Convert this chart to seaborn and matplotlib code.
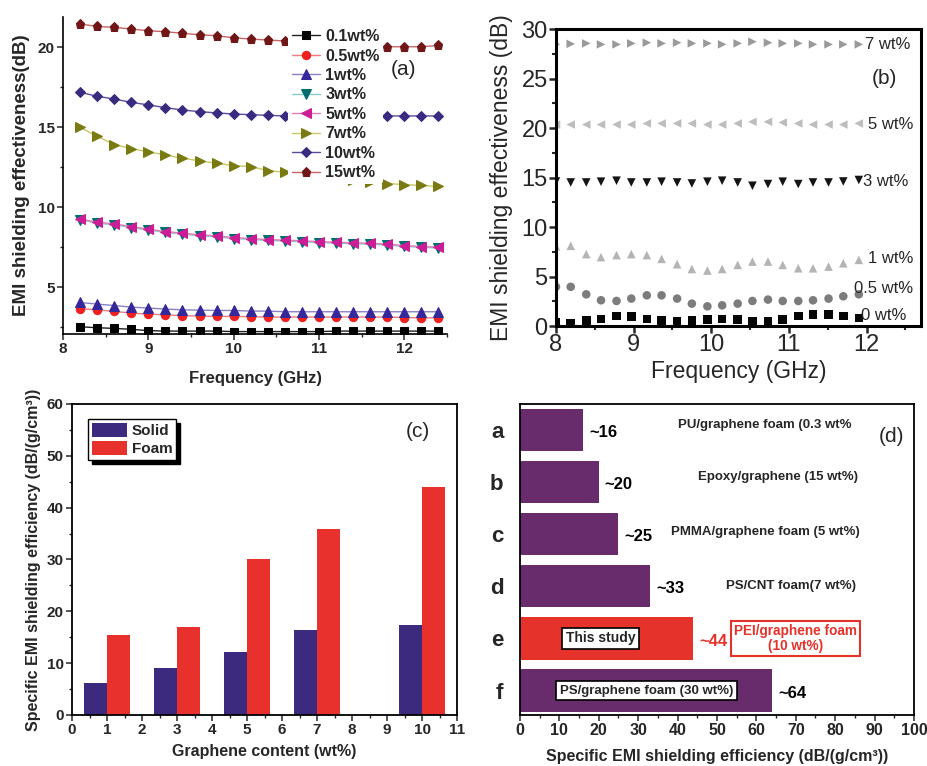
import numpy as np
import pandas as pd
import matplotlib
matplotlib.use("Agg")
import matplotlib.pyplot as plt
from matplotlib.ticker import MultipleLocator
from matplotlib.patches import Patch
import seaborn as sns

sns.set_style("ticks")
plt.rcParams["font.family"] = ["Liberation Sans", "DejaVu Sans"]

# ---------------- Panel (a) data ----------------
freq_a = [8.2, 8.4, 8.6, 8.8, 9.0, 9.2, 9.4, 9.6, 9.8, 10.0, 10.2,
          10.4, 10.6, 10.8, 11.0, 11.2, 11.4, 11.6, 11.8, 12.0, 12.2, 12.4]
se_01 = [2.52, 2.46, 2.42, 2.36, 2.28, 2.25, 2.25, 2.25, 2.25, 2.22, 2.22,
         2.22, 2.22, 2.22, 2.22, 2.25, 2.25, 2.25, 2.25, 2.25, 2.25, 2.25]
se_05 = [3.65, 3.58, 3.48, 3.38, 3.31, 3.27, 3.21, 3.19, 3.17, 3.17, 3.15,
         3.13, 3.13, 3.13, 3.13, 3.13, 3.13, 3.13, 3.13, 3.10, 3.08, 3.08]
se_1 = [4.04, 3.94, 3.85, 3.75, 3.69, 3.63, 3.58, 3.56, 3.54, 3.54, 3.50,
        3.50, 3.46, 3.46, 3.46, 3.46, 3.46, 3.46, 3.46, 3.46, 3.46, 3.46]
se_3 = [9.22, 9.00, 8.90, 8.73, 8.57, 8.42, 8.32, 8.21, 8.15, 8.04, 7.98,
        7.92, 7.88, 7.84, 7.79, 7.75, 7.71, 7.69, 7.63, 7.55, 7.49, 7.45]
se_5 = [9.27, 9.06, 8.96, 8.79, 8.63, 8.48, 8.38, 8.27, 8.21, 8.10, 8.04,
        7.98, 7.94, 7.90, 7.85, 7.81, 7.77, 7.75, 7.69, 7.60, 7.54, 7.50]
se_7 = [15.00, 14.44, 13.92, 13.67, 13.46, 13.27, 13.06, 12.90, 12.75, 12.60, 12.54,
        12.29, 12.19, 12.08, 11.95, 11.82, 11.70, 11.58, 11.48, 11.42, 11.36, 11.30]
se_10 = [17.19, 16.94, 16.77, 16.56, 16.40, 16.23, 16.08, 15.98, 15.90, 15.83, 15.79,
         15.75, 15.71, 15.70, 15.70, 15.70, 15.70, 15.70, 15.71, 15.71, 15.71, 15.71]
se_15 = [21.46, 21.31, 21.25, 21.15, 21.04, 20.98, 20.88, 20.79, 20.73, 20.60, 20.52,
         20.46, 20.40, 20.33, 20.26, 20.19, 20.13, 20.08, 20.04, 20.04, 20.04, 20.12]
labels_a = ["0.1wt%", "0.5wt%", "1wt%", "3wt%", "5wt%", "7wt%", "10wt%", "15wt%"]

# ---------------- Panel (b) data ----------------
freq_b = [8.00, 8.19, 8.39, 8.58, 8.78, 8.97, 9.17, 9.36, 9.56, 9.75, 9.95,
          10.14, 10.34, 10.53, 10.73, 10.92, 11.12, 11.31, 11.51, 11.70, 11.90]
b_7 = [28.45, 28.50, 28.55, 28.45, 28.45, 28.55, 28.62, 28.55, 28.62, 28.55, 28.55,
       28.45, 28.55, 28.72, 28.62, 28.55, 28.55, 28.45, 28.45, 28.45, 28.45]
b_5 = [20.35, 20.35, 20.35, 20.35, 20.35, 20.35, 20.46, 20.46, 20.46, 20.46, 20.35,
       20.35, 20.46, 20.63, 20.63, 20.56, 20.46, 20.35, 20.35, 20.35, 20.46]
b_3 = [14.60, 14.50, 14.50, 14.58, 14.68, 14.50, 14.50, 14.58, 14.50, 14.40, 14.58,
       14.68, 14.50, 14.17, 14.34, 14.58, 14.34, 14.50, 14.50, 14.60, 14.75]
b_1 = [8.05, 8.10, 7.26, 6.96, 7.16, 7.26, 7.16, 6.78, 6.24, 5.76, 5.60,
       5.76, 6.17, 6.51, 6.51, 6.17, 5.83, 5.83, 6.00, 6.34, 6.68]
b_05 = [3.96, 3.96, 3.20, 2.60, 2.53, 2.77, 3.10, 3.10, 2.77, 2.26, 1.99,
        2.09, 2.26, 2.53, 2.67, 2.53, 2.53, 2.60, 2.77, 3.00, 3.20]
b_0 = [0.39, 0.29, 0.56, 0.73, 0.99, 0.96, 0.73, 0.56, 0.46, 0.56, 0.66,
       0.73, 0.63, 0.46, 0.46, 0.63, 0.99, 1.14, 1.14, 0.99, 0.80]
labels_b = ["7 wt%", "5 wt%", "3 wt%", "1 wt%", "0.5 wt%", "0 wt%"]

# ---------------- Panel (c) data ----------------
content = [1, 3, 5, 7, 10]
solid = [6.2, 9.0, 12.1, 16.3, 17.3]
foam = [15.4, 16.9, 30.0, 35.9, 43.9]

# ---------------- Panel (d) data ----------------
cats_d = ["a", "b", "c", "d", "e", "f"]
vals_d = [16, 20, 25, 33, 44, 64]
approx_d = ["~16", "~20", "~25", "~33", "~44", "~64"]
desc_d = ["PU/graphene foam (0.3 wt%", "Epoxy/graphene (15 wt%)",
          "PMMA/graphene foam (5 wt%)", "PS/CNT foam(7 wt%)",
          "PEI/graphene foam\n(10 wt%)", "PS/graphene foam (30 wt%)"]

fig = plt.figure(figsize=(9.28, 7.66), dpi=100)
BOLD = "bold"

# ======================= Panel (a) =======================
axa = fig.add_axes([0.0679, 0.5640, 0.4138, 0.4138])
markers_a = ["s", "o", "^", "v", "<", ">", "D", "p"]
mcols = ["#000000", "#ee2020", "#34289a", "#006e6e", "#cc1c96", "#7a7a12", "#3a2a80", "#701616"]
lcols = ["#202020", "#f27a7a", "#8a80c8", "#8acccc", "#e47ab8", "#c8c866", "#5a4aa0", "#c46464"]
msizes = [5.5, 6, 6.5, 6.5, 6.5, 6.5, 5, 6.5]
series_a = [se_01, se_05, se_1, se_3, se_5, se_7, se_10, se_15]
for vals, lab, m, mc, lc, ms in zip(series_a, labels_a, markers_a, mcols, lcols, msizes):
    sns.lineplot(x=freq_a, y=vals, ax=axa, color=lc, linewidth=1.0, marker=m,
                 markersize=ms, markerfacecolor=mc, markeredgecolor=mc, label=lab)
axa.set_xlim(8, 12.5)
axa.set_ylim(2.07, 21.9)
axa.xaxis.set_major_locator(MultipleLocator(1))
axa.xaxis.set_minor_locator(MultipleLocator(0.5))
axa.yaxis.set_major_locator(MultipleLocator(5))
axa.yaxis.set_minor_locator(MultipleLocator(2.5))
for s in ["top", "right"]:
    axa.spines[s].set_visible(False)
for s in ["left", "bottom"]:
    axa.spines[s].set_linewidth(1.2)
    axa.spines[s].set_color("black")
axa.tick_params(which="major", direction="out", length=4, width=1.1, labelsize=11, pad=2)
axa.tick_params(which="minor", direction="out", length=2.5, width=1.0)
for t in axa.get_xticklabels() + axa.get_yticklabels():
    t.set_fontweight(BOLD)
axa.set_xlabel("Frequency (GHz)", fontsize=12, fontweight=BOLD)
axa.set_ylabel("EMI shielding effectiveness(dB)", fontsize=13.5, fontweight=BOLD)
axa.xaxis.set_label_coords(0.5, -0.139)
axa.xaxis.label.set_va("center")
axa.yaxis.set_label_coords(-0.107, 0.5)
axa.yaxis.label.set_va("center")
h, l = axa.get_legend_handles_labels()
lega = axa.legend(h, l, loc="upper left", bbox_to_anchor=(0.587, 0.972), frameon=True,
                  prop={"weight": "bold", "size": 11.5}, handlelength=1.75,
                  handletextpad=0.35, labelspacing=0.28, borderpad=0.2, borderaxespad=0)
lega.get_frame().set_facecolor("white")
lega.get_frame().set_edgecolor("none")
lega.get_frame().set_alpha(1)
axa.text(11.99, 18.6, "(a)", fontsize=15, ha="center", va="center")

# ======================= Panel (b) =======================
axb = fig.add_axes([0.5991, 0.5744, 0.3933, 0.3877])
markers_b = [">", "<", "v", "^", "o", "s"]
cols_b = ["#9a9a9a", "#bdbdbd", "#141414", "#b4b4b4", "#7c7c7c", "#050505"]
series_b = [b_7, b_5, b_3, b_1, b_05, b_0]
for vals, m, c in zip(series_b, markers_b, cols_b):
    sns.scatterplot(x=freq_b, y=vals, ax=axb, marker=m, color=c, s=38,
                    edgecolor="none", linewidth=0)
ann_b = [(11.98, 28.45), (12.02, 20.4), (11.96, 14.6), (12.02, 6.8), (11.84, 3.8), (11.93, 1.07)]
for (xx, yy), lab in zip(ann_b, labels_b):
    axb.text(xx, yy, lab, fontsize=12, ha="left", va="center")
axb.text(12.23, 25.05, "(b)", fontsize=15, ha="center", va="center")
axb.set_xlim(8, 12.7)
axb.set_ylim(0, 30)
axb.xaxis.set_major_locator(MultipleLocator(1))
axb.xaxis.set_minor_locator(MultipleLocator(0.5))
axb.yaxis.set_major_locator(MultipleLocator(5))
axb.yaxis.set_minor_locator(MultipleLocator(2.5))
for s in axb.spines.values():
    s.set_linewidth(2.2)
    s.set_color("black")
axb.tick_params(which="major", direction="out", length=5, width=1.8, labelsize=17, pad=1)
axb.tick_params(which="minor", direction="out", length=3, width=1.5)
axb.set_xlabel("Frequency (GHz)", fontsize=16.5)
axb.set_ylabel("EMI shielding effectiveness (dB)", fontsize=16.5)
axb.xaxis.set_label_coords(0.5, -0.154)
axb.xaxis.label.set_va("center")
axb.yaxis.set_label_coords(-0.149, 0.5)
axb.yaxis.label.set_va("center")

# ======================= Panel (c) =======================
axc = fig.add_axes([0.0776, 0.0666, 0.4149, 0.4060])
df_c = pd.DataFrame({"content": content * 2,
                     "type": ["Solid"] * len(content) + ["Foam"] * len(content),
                     "value": solid + foam})
pal_c = {"Solid": "#3b2a7e", "Foam": "#e8302d"}
sns.barplot(data=df_c, x="content", y="value", hue="type", hue_order=["Solid", "Foam"],
            native_scale=True, width=0.667, palette=pal_c, saturation=1,
            errorbar=None, legend=False, ax=axc, linewidth=0)
axc.set_xlim(0, 11)
axc.set_ylim(0, 60)
axc.xaxis.set_major_locator(MultipleLocator(1))
axc.xaxis.set_minor_locator(MultipleLocator(0.5))
axc.yaxis.set_major_locator(MultipleLocator(10))
axc.yaxis.set_minor_locator(MultipleLocator(5))
for s in axc.spines.values():
    s.set_linewidth(1.3)
    s.set_color("black")
axc.tick_params(which="major", direction="out", length=4, width=1.1, labelsize=11, pad=2)
axc.tick_params(which="minor", direction="out", length=2.5, width=1.0)
for t in axc.get_xticklabels() + axc.get_yticklabels():
    t.set_fontweight(BOLD)
axc.set_xlabel("Graphene content (wt%)", fontsize=11.5, fontweight=BOLD)
axc.set_ylabel("Specific EMI shielding efficiency (dB/(g/cm³))", fontsize=11.5, fontweight=BOLD)
axc.xaxis.set_label_coords(0.5, -0.118)
axc.xaxis.label.set_va("center")
axc.yaxis.set_label_coords(-0.099, 0.5)
axc.yaxis.label.set_va("center")
handles_c = [Patch(facecolor=pal_c["Solid"], edgecolor="none", label="Solid"),
             Patch(facecolor=pal_c["Foam"], edgecolor="none", label="Foam")]
legc = axc.legend(handles=handles_c, loc="upper left", bbox_to_anchor=(0.042, 0.952),
                  borderaxespad=0, fancybox=False,
                  shadow={"ox": 3, "oy": -3, "color": "black", "alpha": 1},
                  prop={"weight": "bold", "size": 11}, handlelength=2.3, handleheight=1.1,
                  handletextpad=0.3, labelspacing=0.15, borderpad=0.25)
legc.get_frame().set_edgecolor("black")
legc.get_frame().set_linewidth(1.0)
legc.get_frame().set_alpha(1)
axc.text(9.89, 54.6, "(c)", fontsize=15, ha="center", va="center")

# ======================= Panel (d) =======================
axd = fig.add_axes([0.5603, 0.0666, 0.4246, 0.4060])
cols_d = ["#682b6c", "#682b6c", "#682b6c", "#682b6c", "#e5322b", "#682b6c"]
sns.barplot(x=vals_d, y=cats_d, hue=cats_d, palette=dict(zip(cats_d, cols_d)),
            orient="h", width=0.81, saturation=1, legend=False, ax=axd, linewidth=0)
axd.set_xlim(0, 100)
axd.set_ylim(5.47, -0.5)
axd.xaxis.set_major_locator(MultipleLocator(10))
axd.xaxis.set_minor_locator(MultipleLocator(5))
for s in axd.spines.values():
    s.set_linewidth(1.3)
    s.set_color("black")
axd.tick_params(axis="x", which="major", direction="out", length=4, width=1.1, labelsize=11.5, pad=2)
axd.tick_params(axis="x", which="minor", direction="out", length=2.5, width=1.0)
axd.tick_params(axis="y", length=0, labelsize=16, pad=12)
for t in axd.get_xticklabels() + axd.get_yticklabels():
    t.set_fontweight(BOLD)
axd.set_xlabel("Specific EMI shielding efficiency (dB/(g/cm³))", fontsize=11.5, fontweight=BOLD)
axd.set_ylabel("")
axd.xaxis.set_label_coords(0.5, -0.134)
axd.xaxis.label.set_va("center")
desc_pos = [(62.2, -0.1), (65.5, 0.9), (62.2, 1.95), (68.8, 3.0)]
for (xx, yy), t in zip(desc_pos, desc_d[:4]):
    axd.text(xx, yy, t, fontsize=9.5, fontweight=BOLD, ha="center", va="center")
axd.text(69.9, 4.0, desc_d[4], fontsize=9.8, fontweight=BOLD, color="#e5322b",
         ha="center", va="center", linespacing=1.05,
         bbox=dict(boxstyle="square,pad=0.22", fc="white", ec="#e5322b", lw=1.5))
axd.text(20.5, 4.0, "This study", fontsize=10, fontweight=BOLD, ha="center", va="center",
         bbox=dict(boxstyle="square,pad=0.25", fc="white", ec="black", lw=1.2))
axd.text(32.2, 5.0, desc_d[5], fontsize=9.5, fontweight=BOLD, ha="center", va="center",
         bbox=dict(boxstyle="square,pad=0.3", fc="white", ec="black", lw=1.2))
for i, (v, t) in enumerate(zip(vals_d, approx_d)):
    axd.text(v + 1.5, i + 0.05, t, fontsize=12, fontweight=BOLD, ha="left", va="center",
             color="#e5322b" if cats_d[i] == "e" else "black", zorder=10)
axd.text(94.3, 0.13, "(d)", fontsize=15, ha="center", va="center")

fig.savefig("out.png", dpi=100)
